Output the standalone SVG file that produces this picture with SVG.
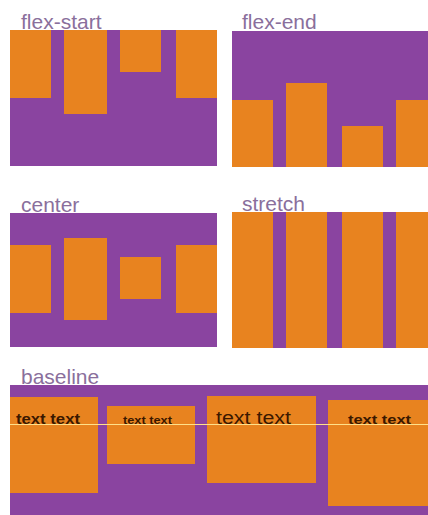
<svg xmlns="http://www.w3.org/2000/svg" width="428" height="515" viewBox="0 0 428 515">
<style>
.bg{fill:#8a44a0}
.it{fill:#e8831f}
.lbl{font-family:"Liberation Sans",Arial,sans-serif;font-size:21px;fill:#8a6f9c}
.tt{font-family:"Liberation Sans",Arial,sans-serif;font-weight:bold;fill:#3a1800}
.tn{font-family:"Liberation Sans",Arial,sans-serif;font-weight:normal;fill:#3a1800}
</style>
<rect width="428" height="515" fill="#ffffff"/>
<g id="flex-start">
<rect class="bg" x="10" y="30" width="207" height="136"/>
<rect class="it" x="10" y="30" width="41" height="68"/>
<rect class="it" x="64" y="30" width="43" height="84"/>
<rect class="it" x="120" y="30" width="41" height="42"/>
<rect class="it" x="176" y="30" width="41" height="68"/>
<text class="lbl" x="21" y="29">flex-start</text>
</g>
<g id="flex-end">
<rect class="bg" x="232" y="31" width="196" height="136"/>
<rect class="it" x="232" y="100" width="41" height="67"/>
<rect class="it" x="286" y="83" width="41" height="84"/>
<rect class="it" x="342" y="126" width="41" height="41"/>
<rect class="it" x="396" y="100" width="32" height="67"/>
<text class="lbl" x="242" y="29">flex-end</text>
</g>
<g id="center">
<rect class="bg" x="10" y="213" width="207" height="134"/>
<rect class="it" x="10" y="245" width="41" height="68"/>
<rect class="it" x="64" y="238" width="43" height="82"/>
<rect class="it" x="120" y="257" width="41" height="42"/>
<rect class="it" x="176" y="245" width="41" height="68"/>
<text class="lbl" x="21" y="212">center</text>
</g>
<g id="stretch">
<rect class="bg" x="232" y="212" width="196" height="136"/>
<rect class="it" x="232" y="212" width="41" height="136"/>
<rect class="it" x="286" y="212" width="41" height="136"/>
<rect class="it" x="342" y="212" width="41" height="136"/>
<rect class="it" x="396" y="212" width="32" height="136"/>
<text class="lbl" x="242" y="211">stretch</text>
</g>
<g id="baseline">
<rect class="bg" x="10" y="385" width="418" height="130"/>
<rect class="it" x="10" y="397" width="88" height="96"/>
<rect class="it" x="107" y="406" width="88" height="58"/>
<rect class="it" x="207" y="396" width="109" height="87"/>
<rect class="it" x="328" y="400" width="100" height="106"/>
<text class="tt" x="16" y="424" font-size="14" textLength="64" lengthAdjust="spacingAndGlyphs">text text</text>
<text class="tt" x="123" y="424" font-size="10" textLength="49" lengthAdjust="spacingAndGlyphs">text text</text>
<text class="tn" x="216" y="424" font-size="18" textLength="75" lengthAdjust="spacingAndGlyphs">text text</text>
<text class="tt" x="348" y="424" font-size="13" textLength="63" lengthAdjust="spacingAndGlyphs">text text</text>
<text class="lbl" x="21" y="384">baseline</text>
</g>
<g id="connectors">
<line x1="10" y1="424.5" x2="428" y2="424.5" stroke="#ffe08a" stroke-width="1"/>
</g>
</svg>
